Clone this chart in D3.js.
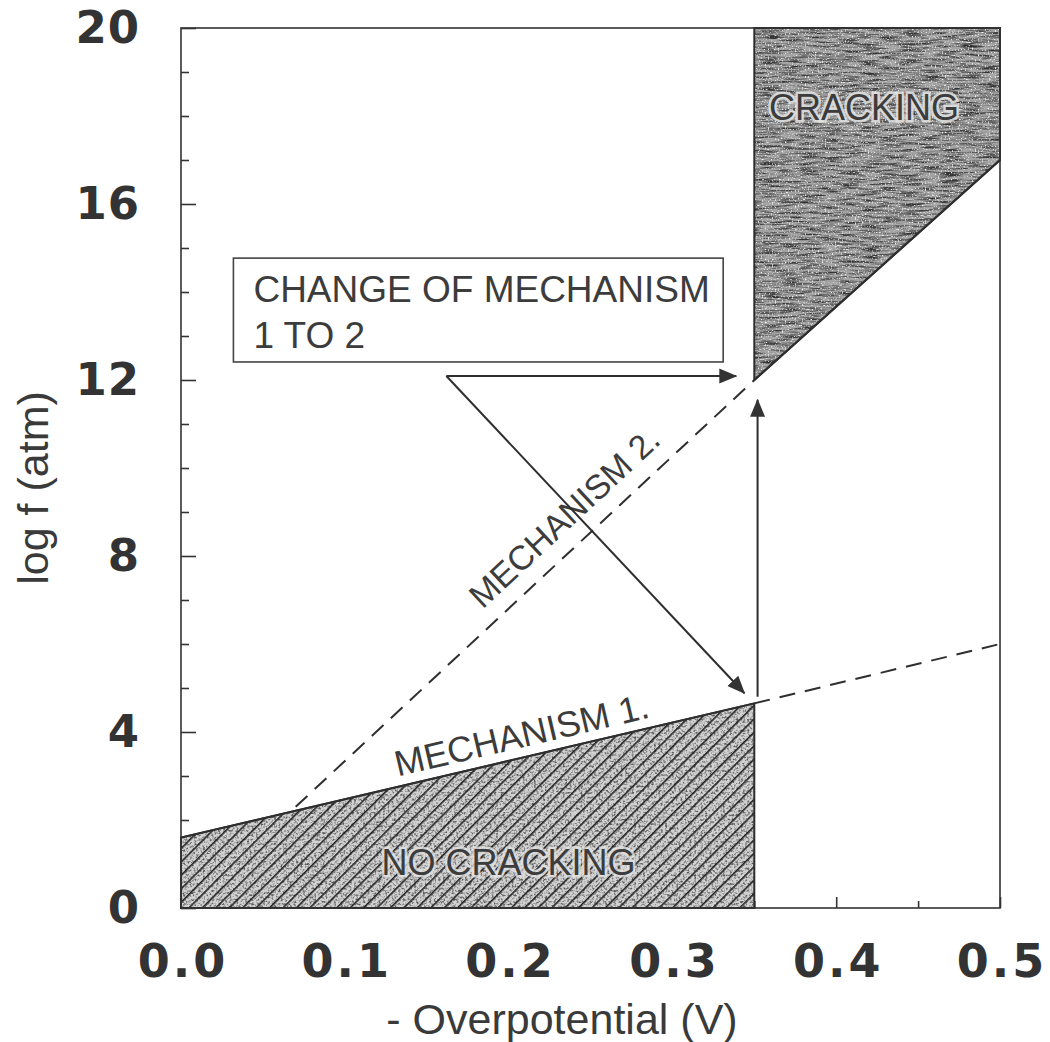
<!DOCTYPE html>
<html>
<head>
<meta charset="utf-8">
<script src="https://cdn.jsdelivr.net/npm/d3@7"></script>
<style>
    html, body { margin: 0; padding: 0; background: #fff; }
    #chart { width: 1050px; height: 1042px; }
    .axis path { display: none; }
    .axis line { stroke: #333; stroke-width: 1.6; }
    .tick-label { font-family: "DejaVu Sans", sans-serif; font-weight: bold; fill: #333; }
    .axis-title { font-family: "Liberation Sans", Arial, sans-serif; fill: #3a3a3a; }
    .note { font-family: "Liberation Sans", Arial, sans-serif; fill: #3c3c3c; }
    .frame { fill: none; stroke: #333; stroke-width: 1.6; }
    .line { fill: none; stroke: #2e2e2e; stroke-width: 2; }
    .dashed { stroke-dasharray: 16, 10; stroke-width: 2; }
</style>
</head>
<body>
<div id="chart"></div>
<script>

// Axis values
const xTicks      = [0.0, 0.1, 0.2, 0.3, 0.4, 0.5];
const xMinorTicks = [0.05, 0.15, 0.25, 0.35, 0.45];
const yTicks      = [0, 4, 8, 12, 16, 20];
const yMinorTicks = [1, 2, 3, 5, 6, 7, 9, 10, 11, 13, 14, 15, 17, 18, 19];

// Boundary lines, [overpotential, log f]
const mech1Solid  = [[0.0, 1.6], [0.35, 4.65]];
const mech1Dashed = [[0.35, 4.65], [0.5, 6.0]];
const mech2Dashed = [[0.07, 2.3], [0.35, 12.0]];
const mech2Solid  = [[0.35, 12.0], [0.5, 17.0]];

// Shaded regions
const noCrackRegion = [[0.0, 0.0], [0.0, 1.6], [0.35, 4.65], [0.35, 0.0]];
const crackRegion   = [[0.35, 20.0], [0.5, 20.0], [0.5, 17.0], [0.35, 12.0]];

// Annotation: box corners and arrows (start, end)
const noteBox     = [[0.032, 14.77], [0.331, 12.41]];
const noteLines   = ["CHANGE OF MECHANISM", "1 TO 2"];
const arrowHoriz  = [[0.162, 12.09], [0.339, 12.09]];
const arrowDiag   = [[0.162, 12.09], [0.344, 4.88]];
const arrowUp     = [[0.352, 4.8], [0.352, 11.55]];


class PhaseChart {

    constructor(selector) {
        this.$div = d3.select(selector);
        this.setChartVars();
        this.setupChartSvg();
        this.drawChart();
    }

    setChartVars() {
        this.chart = {};
        let margin = this.chart.margin = {top: 28, right: 50, bottom: 134, left: 181};
        let width  = this.chart.width  = 1050;
        let height = this.chart.height = 1042;
        this.chart.xwidth  = width - margin.left - margin.right;
        this.chart.yheight = height - margin.top - margin.bottom;
    }

    setupChartSvg() {
        let chart = this.chart;

        this.root = this.$div
            .append("svg")
                .attr("width",  chart.width)
                .attr("height", chart.height);

        this.defs = this.root.append("defs");
        this.addTextures();

        this.svg = this.root.append("g")
            .attr("transform", "translate(" + chart.margin.left + "," + chart.margin.top + ")");
    }

    // Grainy fills and hatching that imitate the printed screens.
    addTextures() {
        let defs = this.defs;

        // Dark, streaky grain for the cracking zone
        let f1 = defs.append("filter").attr("id", "grainDark")
            .attr("x", 0).attr("y", 0).attr("width", 1).attr("height", 1)
            .attr("color-interpolation-filters", "sRGB");
        f1.append("feTurbulence").attr("type", "fractalNoise")
            .attr("baseFrequency", "0.05 0.45").attr("numOctaves", 3).attr("seed", 7).attr("result", "n");
        f1.append("feColorMatrix").attr("in", "n").attr("type", "matrix")
            .attr("values", "0 0 0 0 0.2  0 0 0 0 0.2  0 0 0 0 0.2  2.8 0 0 0 -1.15")
            .attr("result", "dark");
        f1.append("feTurbulence").attr("type", "fractalNoise")
            .attr("baseFrequency", "0.7").attr("numOctaves", 1).attr("seed", 3).attr("result", "n2");
        f1.append("feColorMatrix").attr("in", "n2").attr("type", "matrix")
            .attr("values", "0 0 0 0 1  0 0 0 0 1  0 0 0 0 1  4 0 0 0 -2.2")
            .attr("result", "light");
        f1.append("feComposite").attr("in", "dark").attr("in2", "SourceGraphic")
            .attr("operator", "in").attr("result", "darkIn");
        f1.append("feComposite").attr("in", "light").attr("in2", "SourceGraphic")
            .attr("operator", "in").attr("result", "lightIn");
        let m1 = f1.append("feMerge");
        m1.append("feMergeNode").attr("in", "SourceGraphic");
        m1.append("feMergeNode").attr("in", "darkIn");
        m1.append("feMergeNode").attr("in", "lightIn");

        // Light stipple under the hatching
        let f2 = defs.append("filter").attr("id", "grainLight")
            .attr("x", 0).attr("y", 0).attr("width", 1).attr("height", 1)
            .attr("color-interpolation-filters", "sRGB");
        f2.append("feTurbulence").attr("type", "fractalNoise")
            .attr("baseFrequency", "0.45").attr("numOctaves", 2).attr("seed", 11).attr("result", "n");
        f2.append("feColorMatrix").attr("in", "n").attr("type", "matrix")
            .attr("values", "0 0 0 0 0.35  0 0 0 0 0.35  0 0 0 0 0.35  3 0 0 0 -1.35")
            .attr("result", "dark");
        f2.append("feComposite").attr("in", "dark").attr("in2", "SourceGraphic")
            .attr("operator", "in").attr("result", "darkIn");
        let m2 = f2.append("feMerge");
        m2.append("feMergeNode").attr("in", "SourceGraphic");
        m2.append("feMergeNode").attr("in", "darkIn");

        // Diagonal hatch "/"
        defs.append("pattern").attr("id", "hatch")
            .attr("patternUnits", "userSpaceOnUse")
            .attr("width", 9.5).attr("height", 9.5)
            .attr("patternTransform", "rotate(45)")
          .append("line")
            .attr("x1", 0.8).attr("y1", 0).attr("x2", 0.8).attr("y2", 9.5)
            .attr("stroke", "#1a1a1a").attr("stroke-width", 1.5);

        // Arrow head
        defs.append("marker").attr("id", "arrow")
            .attr("markerUnits", "userSpaceOnUse")
            .attr("viewBox", "0 -8 18 16")
            .attr("markerWidth", 18).attr("markerHeight", 16)
            .attr("refX", 17).attr("refY", 0)
            .attr("orient", "auto")
          .append("path")
            .attr("d", "M0,-7.5L18,0L0,7.5Z")
            .attr("fill", "#333");
    }

    drawChart() {
        let chart = this.chart;
        let svg   = this.svg;

        // Set the ranges
        let x = d3.scaleLinear().domain([0, 0.5]).range([0, chart.xwidth]);
        let y = d3.scaleLinear().domain([0, 20]).range([chart.yheight, 0]);

        let line = d3.line().x(d => x(d[0])).y(d => y(d[1]));

        // Minor ticks (inward)
        svg.append("g")
            .attr("class", "x axis")
            .attr("transform", "translate(0," + chart.yheight + ")")
            .call(d3.axisBottom(x).tickValues(xMinorTicks).tickSize(-7).tickFormat(""));
        svg.append("g")
            .attr("class", "y axis")
            .call(d3.axisLeft(y).tickValues(yMinorTicks).tickSize(-8).tickFormat(""));

        // Major ticks with labels
        let xAxis = d3.axisBottom(x).tickValues(xTicks).tickSize(-11).tickPadding(36)
                        .tickFormat(d3.format(".1f"));
        let yAxis = d3.axisLeft(y).tickValues(yTicks).tickSize(-15).tickPadding(41)
                        .tickFormat(d3.format("d"));

        svg.append("g")
            .attr("class", "x axis")
            .attr("transform", "translate(0," + chart.yheight + ")")
            .call(xAxis)
            .selectAll("text")
                .attr("class", "tick-label")
                .style("font-size", "46px")
                .style("letter-spacing", "3px")
                .attr("dx", "1.5px");

        svg.append("g")
            .attr("class", "y axis")
            .call(yAxis)
            .selectAll("text")
                .attr("class", "tick-label")
                .style("font-size", "45px")
                .style("letter-spacing", "1px");

        // Shaded regions
        svg.append("path")
            .attr("d", line(noCrackRegion) + "Z")
            .attr("fill", "#d2d2d2")
            .attr("filter", "url(#grainLight)");
        svg.append("path")
            .attr("d", line(noCrackRegion) + "Z")
            .attr("fill", "url(#hatch)")
            .attr("stroke", "#2e2e2e").attr("stroke-width", 2);

        svg.append("path")
            .attr("d", line(crackRegion) + "Z")
            .attr("fill", "#a2a2a2")
            .attr("filter", "url(#grainDark)");
        svg.append("path")
            .attr("d", line(crackRegion) + "Z")
            .attr("fill", "none")
            .attr("stroke", "#2e2e2e").attr("stroke-width", 2);

        // Plot frame
        svg.append("rect")
            .attr("class", "frame")
            .attr("width", chart.xwidth)
            .attr("height", chart.yheight);

        // Mechanism lines
        svg.append("path").attr("class", "line").attr("d", line(mech1Solid));
        svg.append("path").attr("class", "line dashed").attr("d", line(mech1Dashed));
        svg.append("path").attr("class", "line dashed").attr("d", line(mech2Dashed));
        svg.append("path").attr("class", "line").attr("d", line(mech2Solid));

        // Labels along the lines
        this.lineLabel(x, y, mech1Solid,  0.211, 10, "MECHANISM 1.", 36);
        this.lineLabel(x, y, mech2Dashed, 0.246, 17, "MECHANISM 2.", 34);

        // Region labels
        svg.append("text")
            .attr("class", "note")
            .attr("x", x(0.417)).attr("y", y(17.9))
            .attr("text-anchor", "middle")
            .style("font-size", "36px")
            .style("paint-order", "stroke")
            .attr("stroke", "#e4e4e4").attr("stroke-width", 5).attr("stroke-opacity", 0.85)
            .text("CRACKING");

        svg.append("text")
            .attr("class", "note")
            .attr("x", x(0.2)).attr("y", y(0.75))
            .attr("text-anchor", "middle")
            .style("font-size", "36px")
            .style("paint-order", "stroke")
            .attr("stroke", "#e4e4e4").attr("stroke-width", 5).attr("stroke-opacity", 0.8)
            .text("NO CRACKING");

        // Annotation box
        let bx = x(noteBox[0][0]), by = y(noteBox[0][1]);
        svg.append("rect")
            .attr("x", bx).attr("y", by)
            .attr("width",  x(noteBox[1][0]) - bx)
            .attr("height", y(noteBox[1][1]) - by)
            .attr("fill", "#fff").attr("stroke", "#444").attr("stroke-width", 1.6);
        svg.append("text")
            .attr("class", "note")
            .style("font-size", "37px")
            .selectAll("tspan")
            .data(noteLines)
            .enter()
          .append("tspan")
            .attr("x", bx + 20)
            .attr("y", (d, i) => by + 44 + i * 46)
            .text(d => d);

        // Arrows
        [arrowHoriz, arrowDiag].forEach(a => {
            svg.append("path")
                .attr("class", "line")
                .attr("stroke-width", 1.6)
                .attr("d", line(a))
                .attr("marker-end", "url(#arrow)");
        });
        svg.append("path")
            .attr("class", "line")
            .attr("stroke-width", 2.6)
            .attr("d", line(arrowUp))
            .attr("marker-end", "url(#arrow)");

        // Axis titles
        this.root.append("text")
            .attr("class", "axis-title")
            .attr("transform", "translate(48,488) rotate(-90)")
            .attr("text-anchor", "middle")
            .style("font-size", "43px")
            .text("log f (atm)");

        this.root.append("text")
            .attr("class", "axis-title")
            .attr("x", 562).attr("y", 1034)
            .attr("text-anchor", "middle")
            .style("font-size", "43px")
            .text("- Overpotential (V)");
    }

    // Put a text on a line segment, rotated with it and lifted above it.
    lineLabel(x, y, seg, at, lift, label, size) {
        let p0 = [x(seg[0][0]), y(seg[0][1])];
        let p1 = [x(seg[1][0]), y(seg[1][1])];
        let angle = Math.atan2(p1[1] - p0[1], p1[0] - p0[0]) * 180 / Math.PI;
        let t  = (x(at) - p0[0]) / (p1[0] - p0[0]);
        let px = x(at);
        let py = p0[1] + t * (p1[1] - p0[1]);

        this.svg.append("text")
            .attr("class", "note")
            .attr("transform", "translate(" + px + "," + py + ") rotate(" + angle + ")")
            .attr("y", -lift)
            .attr("text-anchor", "middle")
            .style("font-size", size + "px")
            .text(label);
    }
}

new PhaseChart("#chart");
</script>
</body>
</html>
